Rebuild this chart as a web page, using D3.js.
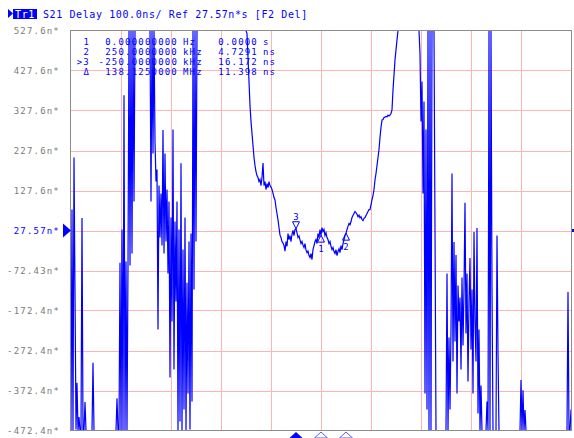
<!DOCTYPE html>
<html>
<head>
  <meta charset="UTF-8">
  <style>
    body { margin: 0; padding: 0; background: #fff; }
    svg { display: block; }
    text { font-family: "DejaVu Sans Mono", monospace; font-size: 9px; letter-spacing: 1.2px; }
    .hdr { font-size: 10px; letter-spacing: 0.6px; }
  </style>
</head>
<body>
<svg></svg>
<script src="https://d3js.org/d3.v7.min.js"></script>
<script>
  // sweep setup: offset from centre, kHz
  const sweepStart = -2500, sweepStep = 10, sweepPoints = 501;

  // S21 delay trace, n*s (values past the scale are drawn on the edge)
  const delay = [
    -500, 80, -500, 210, -128, -470, -353, -500, -439, -500,
    -500, 59, -500, -500, -401, -500, -500, -500, -500, -500,
    -500, -500, -303, -500, -500, -500, -500, -500, -500, -500,
    -500, -500, -500, -500, -500, -500, -500, -500, -500, -500,
    -500, -500, -500, -500, -500, -500, -392, -500, -500, -53,
    -500, 30, -480, 366, -500, -50, -500, -60, 600, -60,
    600, -30, 600, 100, 600, 600, 600, 600, 600, 600,
    600, 600, 600, 600, 600, 600, 600, 600, 600, 600,
    100, 600, 220, 600, 250, 150, 180, -220, 140, 10,
    120, -10, 279, -30, 220, 0, 130, -80, 100, -340,
    60, -200, 280, -320, 50, -150, 100, -500, 30, -450,
    196, -500, -20, -420, 60, -500, -103, -380, 0, -470,
    20, -400, 600, -120, 600, 0, 600, 600, 600, 600,
    600, 600, 600, 600, 600, 600, 600, 600, 600, 600,
    600, 600, 600, 600, 600, 600, 600, 600, 600, 600,
    600, 600, 600, 600, 600, 600, 600, 600, 600, 600,
    600, 600, 600, 600, 600, 600, 600, 600, 600, 600,
    600, 600, 600, 600, 600, 600, 520, 460, 400, 340,
    300, 270, 240, 210, 190, 175, 165, 160, 150, 155,
    140, 160, 196, 140, 150, 130, 145, 135, 150, 140,
    136, 130, 121, 110, 104, 85, 70, 54, 35, 16,
    10, 0, -4, -10, -24, 0, -12, 20, 5, 15,
    0, 18, 28, 15, 30, 32, 22, 10, 14, 4,
    -5, 0, -9, -15, -5, -21, -28, -24, -35, -40,
    -30, -45, -20, -10, 0, 5, -5, 20, 10, 30,
    16, 35, 25, 30, 15, 22, 10, 5, -5, 0,
    -12, -20, -15, -25, -30, -20, -35, -25, -18, -28,
    -10, -20, -5, 5, 15, 21, 30, 38, 45, 42,
    50, 60, 65, 70, 75, 72, 68, 62, 66, 59,
    62, 55, 52, 58, 60, 65, 70, 75, 80, 80,
    92, 104, 115, 130, 154, 170, 190, 210, 230, 260,
    285, 304, 305, 310, 311, 313, 312, 316, 314, 316,
    320, 329, 379, 416, 454, 479, 504, 600, 600, 600,
    600, 600, 600, 600, 600, 600, 600, 600, 600, 600,
    600, 600, 600, 600, 600, 600, 600, 600, 600, 470,
    300, 400, 120, 350, -380, 280, -420, 600, -500, 600,
    -500, 600, 600, 600, 27, -500, -500, -500, -500, -500,
    -500, -500, -500, -500, -500, -500, -80, -500, -240, -420,
    -220, 170, -300, -1, -250, -34, -380, -110, -200, -140,
    -320, -90, -260, -120, 97, -230, -80, -350, -150, -41,
    -270, -120, -380, 24, -200, -300, 34, -430, -220, -500,
    -360, -500, -500, -500, -500, -500, -400, -500, 600, -500,
    600, -120, -500, -500, -500, -500, 15, -280, -500, -500,
    -500, -500, -500, -500, -500, -500, -500, -500, -500, -500,
    -500, -500, -500, -500, -500, -500, -500, -500, -500, -500,
    -346, -500, -372, -500, -421, -500, -500, -500, -500, -500,
    -500, -500, -500, -500, -500, -500, -500, -500, -500, -500,
    -500, -500, -500, -500, -500, -500, -500, -500, -500, -500,
    -500, -500, -500, -500, -500, -500, -500, -500, -500, -500,
    -500, -500, -500, -500, -500, -500, -500, -126, -500, -500,
    -420
  ];

  const yTicks = [527.57, 427.57, 327.57, 227.57, 127.57, 27.57, -72.43, -172.43, -272.43, -372.43, -472.43];
  const yTickLabels = ["527.6n*", "427.6n*", "327.6n*", "227.6n*", "127.6n*", "27.57n*",
                       "-72.43n*", "-172.4n*", "-272.4n*", "-372.4n*", "-472.4n*"];
  const xGrid = [-2000, -1500, -1000, -500, 0, 500, 1000, 1500, 2000];
  const refValue = 27.57;

  // markers
  const markerNames = ["1", "2", "3"];
  const markerFreqs = [0, 250, -250];
  const activeMarker = "3";
  const tableLabels = ["1", "2", ">3", "\u0394"];
  const tableStim = ["0.000000000", "250.0000000", "-250.0000000", "138.1250000"];
  const tableStimUnit = ["Hz", "kHz", "kHz", "MHz"];
  const tableVal = ["0.0000", "4.7291", "16.172", "11.398"];
  const tableValUnit = ["s", "ns", "ns", "ns"];

  const header = "S21 Delay 100.0ns/ Ref 27.57n*s [F2 Del]";

  const width = 574, height = 438;
  const blue = "#0000ff";
  const svg = d3.select("svg").attr("width", width).attr("height", height);

  const x = d3.scaleLinear().domain([-2500, 2500]).range([71, 571]);
  const y = d3.scaleLinear().domain([-472.43, 527.57]).range([430.5, 30.5]).clamp(true);

  const freqs = d3.range(sweepPoints).map(i => sweepStart + i * sweepStep);
  const trace = freqs.map((f, i) => ({ f: f, v: delay[i] }));

  // grid
  const grid = svg.append("g").attr("shape-rendering", "crispEdges");
  grid.selectAll(".hg").data(yTicks.slice(1, -1)).enter().append("line")
      .attr("x1", 71).attr("x2", 571)
      .attr("y1", d => Math.round(y(d)) + 0.5).attr("y2", d => Math.round(y(d)) + 0.5)
      .attr("stroke", "#ffb4b4");
  grid.selectAll(".vg").data(xGrid).enter().append("line")
      .attr("x1", d => x(d) + 0.5).attr("x2", d => x(d) + 0.5)
      .attr("y1", 31).attr("y2", 430)
      .attr("stroke", "#ffb4b4");

  // marker table (under the trace)
  const table = svg.append("g").attr("fill", blue);
  tableLabels.forEach((t, i) => {
    const by = 45 + i * 10;
    table.append("text").attr("x", 90).attr("y", by).attr("text-anchor", "end").text(t);
    table.append("text").attr("x", 178).attr("y", by).attr("text-anchor", "end").text(tableStim[i]);
    table.append("text").attr("x", 183).attr("y", by).text(tableStimUnit[i]);
    table.append("text").attr("x", 258).attr("y", by).attr("text-anchor", "end").text(tableVal[i]);
    table.append("text").attr("x", 263).attr("y", by).text(tableValUnit[i]);
  });

  // trace
  const line = d3.line().x(d => x(d.f)).y(d => y(d.v));
  svg.append("path").datum(trace)
      .attr("d", line)
      .attr("fill", "none")
      .attr("stroke", blue)
      .attr("stroke-width", 1.2);

  // frame
  svg.append("rect").attr("x", 70.5).attr("y", 30.5).attr("width", 501).attr("height", 400)
      .attr("fill", "none").attr("stroke", "#8c8c8c").attr("shape-rendering", "crispEdges");

  // y labels
  svg.append("g").selectAll("text").data(yTicks).enter().append("text")
      .attr("x", 60).attr("y", d => y(d)).attr("dy", "0.35em")
      .attr("text-anchor", "end")
      .attr("fill", d => d === refValue ? blue : "#7a7a7a")
      .text((d, i) => yTickLabels[i]);

  // reference pointers
  const ry = y(refValue);
  svg.append("path").attr("d", `M63,${ry - 7}L71,${ry}L63,${ry + 7}Z`).attr("fill", blue);
  svg.append("rect").attr("x", 572).attr("y", ry - 1.5).attr("width", 2).attr("height", 3).attr("fill", blue);

  // markers on the trace
  const valueAt = f => delay[Math.round((f - sweepStart) / sweepStep)];
  const mk = svg.append("g").attr("fill", "none").attr("stroke", blue).attr("stroke-width", 1);
  markerNames.forEach((name, i) => {
    const mx = x(markerFreqs[i]), my = y(valueAt(markerFreqs[i]));
    if (name === activeMarker) {
      mk.append("path").attr("d", `M${mx},${my}L${mx - 3.5},${my - 7}L${mx + 3.5},${my - 7}Z`);
      svg.append("text").attr("x", mx + 0.6).attr("y", my - 9).attr("text-anchor", "middle")
          .attr("fill", blue).text(name);
    } else {
      mk.append("path").attr("d", `M${mx},${my}L${mx - 3.5},${my + 7}L${mx + 3.5},${my + 7}Z`);
      svg.append("text").attr("x", mx + 0.6).attr("y", my + 17).attr("text-anchor", "middle")
          .attr("fill", blue).text(name);
    }
  });

  // stimulus markers below the grid
  markerNames.forEach((name, i) => {
    const mx = x(markerFreqs[i]);
    const active = name === activeMarker;
    svg.append("path")
        .attr("d", `M${mx},432L${mx - 6.5},438L${mx + 6.5},438Z`)
        .attr("fill", active ? blue : "#fff")
        .attr("stroke", active ? "none" : "#5a5aff")
        .attr("stroke-width", 1);
  });

  // header
  svg.append("path").attr("d", "M8,9L13,13.5L8,18Z").attr("fill", blue);
  svg.append("rect").attr("x", 13).attr("y", 9).attr("width", 24).attr("height", 10).attr("fill", blue);
  svg.append("text").attr("x", 25).attr("y", 17.5).attr("text-anchor", "middle")
      .attr("fill", "#fff").attr("class", "hdr").text("Tr1");
  svg.append("text").attr("x", 43).attr("y", 17.5).attr("fill", blue).attr("class", "hdr").text(header);
</script>
</body>
</html>
